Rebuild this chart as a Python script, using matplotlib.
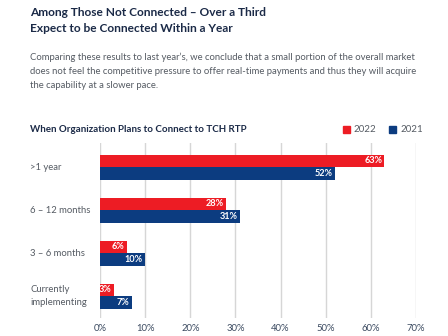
import matplotlib
matplotlib.use("Agg")
import matplotlib.pyplot as plt
import matplotlib.transforms as mtransforms
import numpy as np

# data
categories = [">1 year", "6 – 12 months", "3 – 6 months", "Currently\nimplementing"]
values_2022 = [63, 28, 6, 3]
values_2021 = [52, 31, 10, 7]
xticks = [0, 10, 20, 30, 40, 50, 60, 70]

RED = "#ED1C24"
NAVY = "#0C3C80"
DARK = "#1B2A47"
GRAY = "#555B63"

plt.rcParams["font.family"] = ["Lato", "DejaVu Sans"]

W, H = 448, 336
fig = plt.figure(figsize=(W / 100, H / 100), dpi=100)

# header text
fig.text(30 / W, 1 - 12 / H, "Among Those Not Connected – Over a Third",
         fontsize=8.6, fontweight="bold", color=DARK, va="center", ha="left")
fig.text(30 / W, 1 - 28 / H, "Expect to be Connected Within a Year",
         fontsize=8.6, fontweight="bold", color=DARK, va="center", ha="left")
body = ["Comparing these results to last year’s, we conclude that a small portion of the overall market",
        "does not feel the competitive pressure to offer real-time payments and thus they will acquire",
        "the capability at a slower pace."]
for i, line in enumerate(body):
    fig.text(30 / W, 1 - (57 + 14.5 * i) / H, line, fontsize=6.8, color=GRAY,
             va="center", ha="left")

fig.text(30 / W, 1 - 129 / H, "When Organization Plans to Connect to TCH RTP",
         fontsize=7.0, fontweight="bold", color=DARK, va="center", ha="left")

# legend
fig.patches.append(plt.Rectangle((343 / W, 1 - 133 / H), 7 / W, 7 / H,
                                 transform=fig.transFigure, color=RED))
fig.text(353 / W, 1 - 129.5 / H, "2022", fontsize=7, color=GRAY, va="center")
fig.patches.append(plt.Rectangle((389 / W, 1 - 133 / H), 7 / W, 7 / H,
                                 transform=fig.transFigure, color=NAVY))
fig.text(400 / W, 1 - 129.5 / H, "2021", fontsize=7, color=GRAY, va="center")

# chart axes
ax = fig.add_axes([100 / W, 1 - 318 / H, 316 / W, 175 / H])
y = np.arange(len(categories))
h = 0.29
ax.barh(y - h / 2, values_2022, height=h, color=RED, zorder=3)
ax.barh(y + h / 2, values_2021, height=h, color=NAVY, zorder=3)

for yi, v in zip(y, values_2022):
    ax.text(v - 0.5, yi - h / 2, f"{v}%", color="white", fontsize=6.6,
            fontweight="bold", ha="right", va="center", zorder=4)
for yi, v in zip(y, values_2021):
    ax.text(v - 0.5, yi + h / 2, f"{v}%", color="white", fontsize=6.6,
            fontweight="bold", ha="right", va="center", zorder=4)

ax.set_xlim(0, 70)
ax.set_ylim(3.51, -0.56)
ax.set_xticks(xticks)
ax.set_xticklabels([f"{t}%" for t in xticks], fontsize=6.8, color="#3B4A60")
ax.set_yticks([])
ax.grid(axis="x", color="#D6D6D6", linewidth=1, zorder=0)
ax.tick_params(axis="x", length=0, pad=4)
for s in ax.spines.values():
    s.set_visible(False)

# category labels at the left edge of the figure
trans = mtransforms.blended_transform_factory(fig.transFigure, ax.transData)
for yi, lab in zip(y, categories):
    fig.text(30 / W, yi, lab, fontsize=6.8, color=GRAY, va="center", ha="left",
             transform=trans, linespacing=1.6)

fig.savefig("out.png", dpi=100)
